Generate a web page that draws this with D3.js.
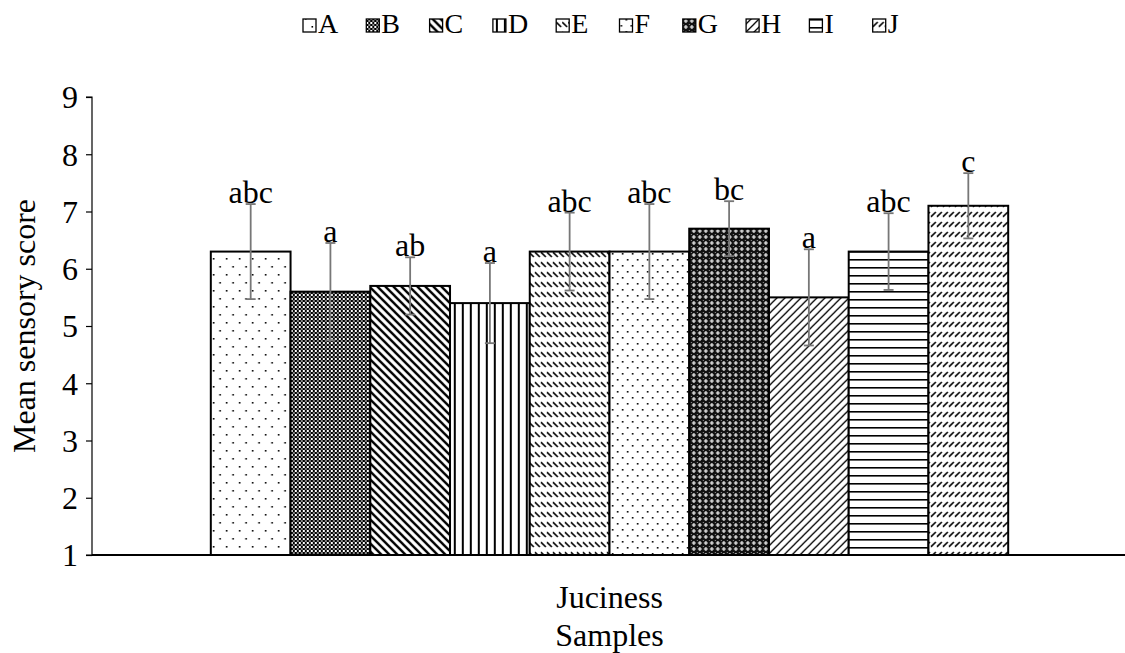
<!DOCTYPE html>
<html>
<head>
<meta charset="utf-8">
<script src="https://cdn.jsdelivr.net/npm/d3@7"></script>
<style>
  body { margin: 0; background: #fff; }
  text { font-family: "Liberation Serif", "Times New Roman", serif; fill: #000; }
</style>
</head>
<body>
<div id="chart"></div>
<script>
// data
const samples = ['A', 'B', 'C', 'D', 'E', 'F', 'G', 'H', 'I', 'J'];
const attribute = ['Juciness'];
const means = [6.3, 5.6, 5.7, 5.4, 6.3, 6.3, 6.7, 5.5, 6.3, 7.1];
const errors = [0.83, 0.85, 0.5, 0.7, 0.68, 0.83, 0.48, 0.84, 0.67, 0.57];
const letters = ['abc', 'a', 'ab', 'a', 'abc', 'abc', 'bc', 'a', 'abc', 'c'];
const yTicks = [1, 2, 3, 4, 5, 6, 7, 8, 9];

const width = 1125, height = 653;
const margin = { left: 92, right: -2, top: 97, bottom: 98 };
const fontSize = '32px';

const svg = d3.select('#chart').append('svg')
    .attr('width', width)
    .attr('height', height);

// fill patterns, roughly like excel's pattern fills
const defs = svg.append('defs');

function pattern(id, w, h, draw) {
    const p = defs.append('pattern')
        .attr('id', id)
        .attr('patternUnits', 'userSpaceOnUse')
        .attr('width', w)
        .attr('height', h);
    p.append('rect').attr('width', w).attr('height', h).attr('fill', '#fff');
    draw(p);
}

// A: sparse dots
pattern('pA', 13, 16, p => {
    p.append('rect').attr('x', 2).attr('y', 2).attr('width', 1.6).attr('height', 1.6).attr('fill', '#000');
    p.append('rect').attr('x', 8.5).attr('y', 10).attr('width', 1.6).attr('height', 1.6).attr('fill', '#000');
});
// B: small checkerboard
pattern('pB', 4, 4, p => {
    p.append('rect').attr('width', 2).attr('height', 2).attr('fill', '#000');
    p.append('rect').attr('x', 2).attr('y', 2).attr('width', 2).attr('height', 2).attr('fill', '#000');
    p.append('rect').attr('x', 2).attr('width', 2).attr('height', 2).attr('fill', '#888');
});
// C: wide downward diagonal
pattern('pC', 8, 8, p => {
    p.append('path').attr('d', 'M-2,-2L10,10M-2,6L2,10M6,-2L10,2')
        .attr('stroke', '#000').attr('stroke-width', 2.4);
});
// D: vertical lines
pattern('pD', 8, 8, p => {
    p.append('rect').attr('x', 3).attr('width', 2).attr('height', 8).attr('fill', '#000');
});
// E: dashed downward diagonal
pattern('pE', 6, 10, p => {
    p.append('path').attr('d', 'M0,2L5,7').attr('stroke', '#000').attr('stroke-width', 1.6);
});
// F: denser dots
pattern('pF', 10, 12, p => {
    p.append('rect').attr('x', 1).attr('y', 1).attr('width', 1.6).attr('height', 1.6).attr('fill', '#000');
    p.append('rect').attr('x', 6).attr('y', 7).attr('width', 1.6).attr('height', 1.6).attr('fill', '#000');
});
// G: dark large checker with crosses
pattern('pG', 6, 6, p => {
    p.select('rect').attr('fill', '#111');
    p.append('path').attr('d', 'M3,1V5M1,3H5').attr('stroke', '#fff').attr('stroke-width', 1.2);
    p.append('rect').attr('x', 0).attr('y', 0).attr('width', 1).attr('height', 1).attr('fill', '#999');
});
// H: light upward diagonal
pattern('pH', 8, 8, p => {
    p.append('path').attr('d', 'M-2,10L10,-2M-2,2L2,-2M6,10L10,6')
        .attr('stroke', '#000').attr('stroke-width', 1.3);
});
// I: horizontal lines
pattern('pI', 8, 8, p => {
    p.append('rect').attr('y', 3).attr('width', 8).attr('height', 1.6).attr('fill', '#000');
});
// J: dashed upward diagonal
pattern('pJ', 6, 10, p => {
    p.append('path').attr('d', 'M0,7L5,2').attr('stroke', '#000').attr('stroke-width', 1.6);
});

const y = d3.scaleLinear()
    .domain([1, 9])
    .range([height - margin.bottom, margin.top]);

const x0 = d3.scaleBand()
    .domain(attribute)
    .range([margin.left, width - margin.right])
    .paddingOuter(0.149);

const x1 = d3.scaleBand()
    .domain(samples)
    .range([0, x0.bandwidth()]);

// y axis
const yAxis = svg.append('g')
    .attr('transform', `translate(${margin.left},0)`)
    .call(d3.axisLeft(y).tickValues(yTicks).tickSize(6).tickPadding(8).tickFormat(d3.format('d')));
yAxis.select('.domain').attr('stroke', '#000').attr('stroke-width', 1.2).attr('d', `M-6,${y(9)}H0V${y(1)}H-6`);
yAxis.selectAll('.tick line').attr('stroke', '#000').attr('stroke-width', 1.2);
yAxis.selectAll('.tick text')
    .style('font-family', '"Liberation Serif", serif')
    .style('font-size', fontSize)
    .attr('dy', '0.34em')
    .attr('fill', '#000');

// bars
const group = svg.append('g')
    .attr('transform', `translate(${x0('Juciness')},0)`);

group.selectAll('rect.bar')
    .data(samples)
    .join('rect')
    .attr('class', 'bar')
    .attr('x', d => x1(d))
    .attr('y', (d, i) => y(means[i]))
    .attr('width', x1.bandwidth())
    .attr('height', (d, i) => y(1) - y(means[i]))
    .attr('fill', d => `url(#p${d})`)
    .attr('stroke', '#000')
    .attr('stroke-width', 2);

// x axis line
svg.append('line')
    .attr('x1', margin.left).attr('x2', width)
    .attr('y1', y(1)).attr('y2', y(1))
    .attr('stroke', '#000').attr('stroke-width', 2);

// error bars
const eb = group.selectAll('g.err')
    .data(samples)
    .join('g')
    .attr('class', 'err')
    .attr('transform', d => `translate(${x1(d) + x1.bandwidth() / 2},0)`)
    .attr('stroke', '#777')
    .attr('stroke-width', 1.8);

eb.append('line')
    .attr('y1', (d, i) => y(means[i] + errors[i]))
    .attr('y2', (d, i) => y(means[i] - errors[i]));
eb.append('line')
    .attr('x1', -5).attr('x2', 5)
    .attr('y1', (d, i) => y(means[i] + errors[i]))
    .attr('y2', (d, i) => y(means[i] + errors[i]));
eb.append('line')
    .attr('x1', -5).attr('x2', 5)
    .attr('y1', (d, i) => y(means[i] - errors[i]))
    .attr('y2', (d, i) => y(means[i] - errors[i]));

// significance letters
group.selectAll('text.sig')
    .data(samples)
    .join('text')
    .attr('class', 'sig')
    .attr('x', d => x1(d) + x1.bandwidth() / 2)
    .attr('y', (d, i) => y(means[i] + errors[i]) - 1)
    .attr('text-anchor', 'middle')
    .style('font-size', fontSize)
    .text((d, i) => letters[i]);

// category label and axis titles
svg.append('text')
    .attr('x', x0('Juciness') + x0.bandwidth() / 2)
    .attr('y', 608)
    .attr('text-anchor', 'middle')
    .style('font-size', fontSize)
    .text('Juciness');

svg.append('text')
    .attr('x', x0('Juciness') + x0.bandwidth() / 2)
    .attr('y', 646)
    .attr('text-anchor', 'middle')
    .style('font-size', fontSize)
    .text('Samples');

svg.append('text')
    .attr('transform', `translate(35,${(y(1) + y(9)) / 2}) rotate(-90)`)
    .attr('text-anchor', 'middle')
    .style('font-size', fontSize)
    .text('Mean sensory score');

// legend
const legend = svg.append('g').attr('transform', 'translate(303,0)');
const item = legend.selectAll('g')
    .data(samples)
    .join('g')
    .attr('transform', (d, i) => `translate(${i * 63.3},0)`);
item.append('rect')
    .attr('x', 0).attr('y', 19)
    .attr('width', 13).attr('height', 13)
    .attr('fill', d => `url(#p${d})`)
    .attr('stroke', '#000')
    .attr('stroke-width', 1.3);
item.append('text')
    .attr('x', 15).attr('y', 33)
    .style('font-size', '28px')
    .text(d => d);
</script>
</body>
</html>
